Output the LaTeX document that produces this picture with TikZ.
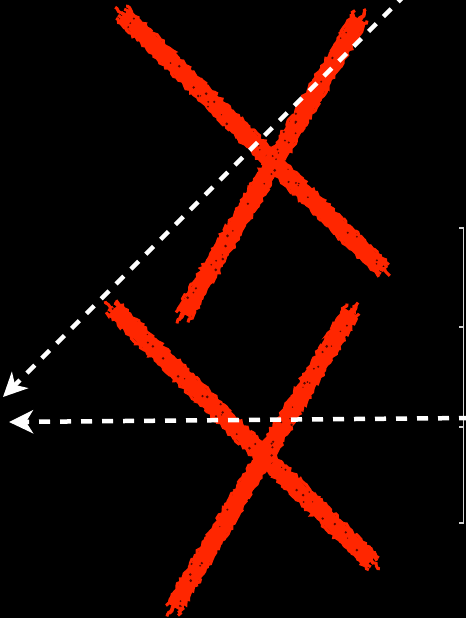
\documentclass[tikz,border=0pt]{standalone}
\usetikzlibrary{arrows.meta,decorations.pathmorphing,calc}
\definecolor{xred}{RGB}{255,38,0}
\definecolor{speck}{RGB}{90,8,0}
\definecolor{axisgray}{RGB}{210,210,210}
\begin{document}
\begin{tikzpicture}[x=1pt,y=-1pt,
  crossstroke/.style={xred,line width=15pt,line cap=butt},
  roughedge/.style={xred,line width=3pt,decorate,decoration={random steps,segment length=2.5pt,amplitude=1.6pt}},
  speckdot/.style={fill=speck},
  dasharrow/.style={white,line width=4.5pt,dash pattern=on 11pt off 10pt,
    -{Stealth[length=24pt,width=23pt,inset=7pt]}},
  axisline/.style={axisgray,line width=1.4pt}]
\pgfmathsetseed{7}
\fill[black] (0,0) rectangle (466,618);
\useasboundingbox (0,0) rectangle (466,618);
% cross 1
\coordinate (a1s) at (124,15);
\coordinate (a1e) at (381,268);
\coordinate (b1s) at (359,19);
\coordinate (b1e) at (184,314);
% cross 2
\coordinate (a2s) at (114,309);
\coordinate (a2e) at (371,561);
\coordinate (b2s) at (351,312);
\coordinate (b2e) at (174,607);
\foreach \s/\e in {a1s/a1e,b1s/b1e,a2s/a2e,b2s/b2e}{
  \draw[crossstroke] (\s) -- (\e);
  \foreach \dx/\dy in {-6/-5,6/5,5/-6,-5/6,0/0,-3/3,3/-3}{
    \draw[roughedge] ($(\s)!-4pt!(\e)+(\dx,\dy)$) -- ($(\e)!-4pt!(\s)+(\dx,\dy)$);
  }
  \foreach \k in {1,...,30}{
    \pgfmathsetmacro{\r}{rnd}
    \pgfmathsetmacro{\ox}{rand*6}
    \pgfmathsetmacro{\oy}{rand*6}
    \pgfmathsetmacro{\rad}{0.6+rnd*0.9}
    \fill[speckdot] ($(\s)!\r!(\e)+(\ox,\oy)$) circle (\rad pt);
  }
}
% axis at right edge
\coordinate (ax1) at (463.5,228);
\coordinate (ax2) at (463.5,327);
\coordinate (ax3) at (463.5,427);
\coordinate (ax4) at (463.5,523);
\draw[axisline] (ax1) -- (ax4);
\foreach \t in {ax1,ax2,ax3,ax4}{
  \draw[axisline] (\t) -- ++(-5,0);
}
% arrows
\coordinate (p1s) at (406,-6);
\coordinate (p1e) at (3,397);
\coordinate (p2s) at (470,418);
\coordinate (p2e) at (9,422);
\draw[dasharrow] (p1s) -- (p1e);
\draw[dasharrow] (p2s) -- (p2e);
\end{tikzpicture}
\end{document}
